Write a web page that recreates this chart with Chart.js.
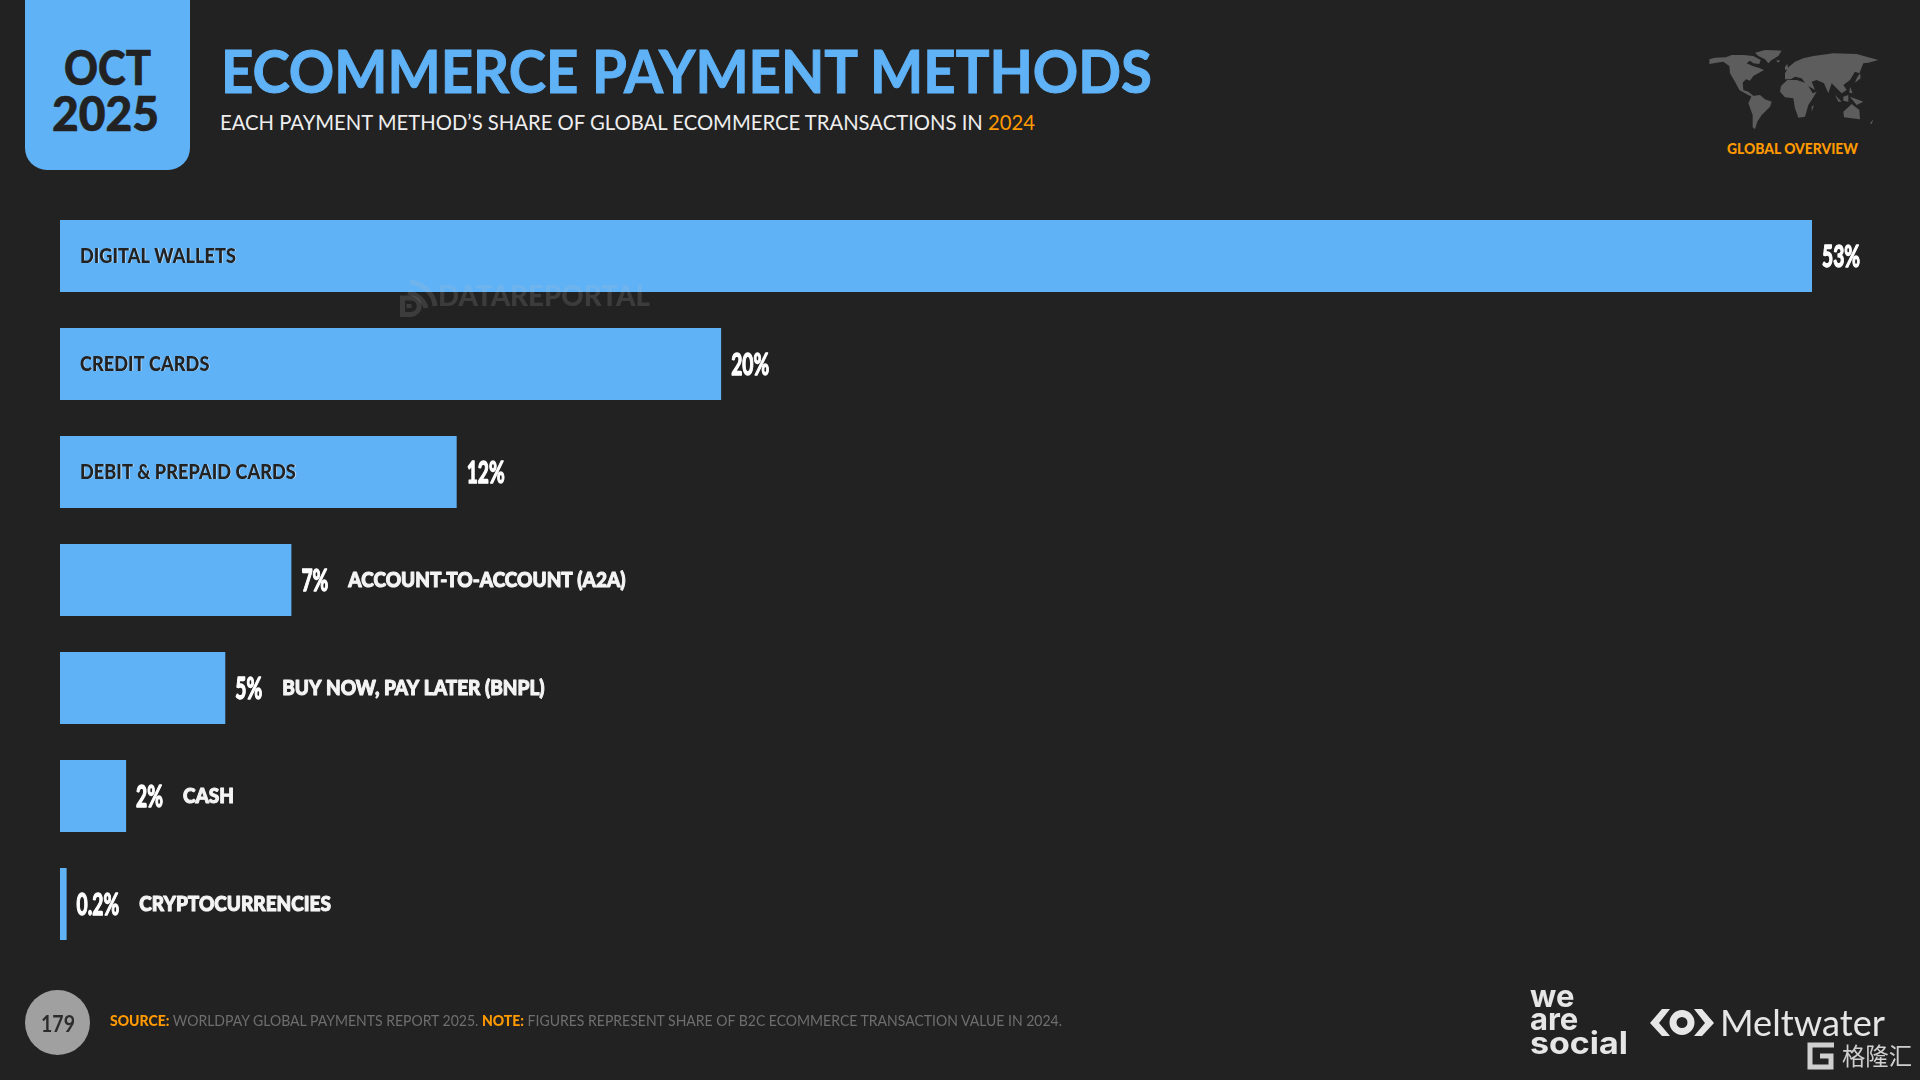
<!DOCTYPE html>
<html>
<head>
<meta charset="utf-8">
<title>Ecommerce Payment Methods</title>
<script src="https://cdn.jsdelivr.net/npm/chart.js@4"></script>
<style>
  html, body { margin: 0; padding: 0; background: #222222; }
  #slide { position: relative; width: 1920px; height: 1080px; overflow: hidden; background: #222222; font-family: Lato, sans-serif; }
  #slide canvas { position: absolute; left: 0; top: 0; }
  .t { position: absolute; white-space: nowrap; line-height: 1; transform-origin: 0 0; }
  #datebox { position: absolute; left: 25px; top: -20px; width: 165px; height: 190px; background: #60b2f7; border-radius: 22px; }
  svg { position: absolute; }
</style>
</head>
<body>
<div id="slide">
  <div id="datebox"></div>
  <span class="t" data-w="87" style="left:64px;top:44px;font-size:47px;font-weight:900;color:#222;-webkit-text-stroke:0.6px #222">OCT</span>
  <span class="t" data-w="107" style="left:52px;top:90px;font-size:47px;font-weight:900;color:#222;-webkit-text-stroke:0.6px #222">2025</span>
  <span class="t" data-w="931" style="left:221px;top:40px;font-size:60px;font-weight:700;color:#60b2f7;-webkit-text-stroke:1px #60b2f7">ECOMMERCE PAYMENT METHODS</span>
  <span class="t" data-w="815" style="left:220px;top:111px;font-size:22px;font-weight:400;color:#eeeeee">EACH PAYMENT METHOD’S SHARE OF GLOBAL ECOMMERCE TRANSACTIONS IN <span style="color:#ff9900">2024</span></span>

  <svg style="left:1700px;top:40px" width="190" height="95" viewBox="0 0 570 285" fill="#5d5d5d">
    <polygon points="165,38 195,30 245,32 235,48 215,60 205,70 195,58 175,48"/>
    <polygon points="28,58 45,53 78,52 95,45 130,45 160,48 182,60 178,72 160,70 150,62 140,70 158,78 178,84 192,90 175,100 160,108 150,122 138,118 128,128 130,150 145,155 165,172 155,170 135,160 118,150 105,125 90,100 88,78 70,65 50,68 28,72"/>
    <polygon points="155,168 180,165 195,178 215,185 210,200 195,215 185,225 172,245 165,268 158,262 158,225 145,190"/>
    <polygon points="243,138 262,120 290,120 320,130 338,160 350,155 335,180 325,195 315,230 295,233 285,205 280,175 255,172 240,155"/>
    <polygon points="255,100 265,82 285,65 310,55 340,48 400,40 470,42 535,60 505,68 490,70 478,100 465,95 450,120 430,135 440,150 425,160 410,145 395,130 385,160 372,130 350,120 335,125 345,150 320,135 305,115 285,110 272,118 255,118"/>
    <polygon points="405,165 425,185 415,185"/>
    <polygon points="430,170 445,165 445,185 430,182"/>
    <polygon points="450,170 490,185 470,195"/>
    <polygon points="450,140 458,160 448,158"/>
    <polygon points="470,115 480,100 482,115 465,128"/>
    <polygon points="430,215 455,192 478,210 480,238 455,235 432,232"/>
    <polygon points="510,250 520,238 515,252"/>
    <polygon points="335,200 342,195 335,215"/>
    <polygon points="255,80 262,72 265,88 255,90"/>
    <polygon points="228,62 240,60 235,68"/>
  </svg>
  <span class="t" data-w="131" style="left:1727px;top:141px;font-size:15px;font-weight:900;color:#ff9900">GLOBAL OVERVIEW</span>

  <canvas id="barChart" width="1920" height="1080"></canvas>

  <svg style="left:400px;top:280px" width="38" height="38" viewBox="0 0 38 38" fill="none" stroke="rgba(190,190,190,0.17)">
    <path d="M10 2 C24 4 34 14 35 26" stroke-width="5"/>
    <path d="M8 12 C16 14 24 20 26 28" stroke-width="5"/>
    <path d="M2.5 18 L11 18 C22 19 22 33 11 34.5 L2.5 34.5 Z M9 24 L9 28" stroke-width="5"/>
  </svg>
  <span class="t" data-w="212" style="left:438px;top:280px;font-size:29px;font-weight:900;color:rgba(190,190,190,0.17)">DATAREPORTAL</span>

  <svg style="left:25px;top:990px" width="65" height="65"><circle cx="32.5" cy="32.5" r="32.5" fill="#a0a0a0"/></svg>
  <span class="t" data-w="34" style="left:41px;top:1013px;font-size:22px;font-weight:700;color:#2c2c2c">179</span>
  <span class="t" data-w="952" style="left:110px;top:1013px;font-size:15px;color:#6e6e6e"><b style="color:#ff9900;font-weight:900">SOURCE:</b> WORLDPAY GLOBAL PAYMENTS REPORT 2025. <b style="color:#ff9900;font-weight:900">NOTE:</b> FIGURES REPRESENT SHARE OF B2C ECOMMERCE TRANSACTION VALUE IN 2024.</span>

  <span class="t" style="left:1530px;top:980px;font-family:Inter,sans-serif;font-size:31px;font-weight:700;color:#e6e6e6">we</span>
  <span class="t" style="left:1530px;top:1003px;font-family:Inter,sans-serif;font-size:31px;font-weight:700;color:#e6e6e6">are</span>
  <span class="t" data-w="98" style="left:1530px;top:1027px;font-family:Inter,sans-serif;font-size:31px;font-weight:700;color:#e6e6e6">social</span>
  <svg style="left:1650px;top:1009px" width="64" height="28" viewBox="0 0 64 28" fill="#e6e6e6">
    <polygon points="0,14 12,0 20,0 9,14 20,27 12,27"/>
    <polygon points="64,14 52,0 44,0 55,14 44,27 52,27"/>
    <circle cx="32" cy="13.5" r="9" fill="none" stroke="#e6e6e6" stroke-width="7"/>
  </svg>
  <span class="t" data-w="165" style="left:1720px;top:1004px;font-size:36px;font-weight:400;color:#e6e6e6">Meltwater</span>
  <svg style="left:1807px;top:1042px" width="29" height="29" viewBox="0 0 29 29" fill="none" stroke="#cfcfcf" stroke-width="5">
    <path d="M27 3 L3 3 L3 25 L24 25 L24 14 L13 14"/>
  </svg>
  <span class="t" data-w="70" style="left:1842px;top:1043px;font-family:'Noto Sans CJK SC',sans-serif;font-size:24px;color:#cfcfcf">格隆汇</span>
</div>

<script>
const categories = ["DIGITAL WALLETS", "CREDIT CARDS", "DEBIT & PREPAID CARDS", "ACCOUNT-TO-ACCOUNT (A2A)", "BUY NOW, PAY LATER (BNPL)", "CASH", "CRYPTOCURRENCIES"];
const shares = [53, 20, 12, 7, 5, 2, 0.2];
const shareLabels = ["53%", "20%", "12%", "7%", "5%", "2%", "0.2%"];

const BAR_COLOR = "#60b2f7";
const VALUE_SQUEEZE = 0.62;
const INSIDE_SQUEEZE = 0.91;
const OUTSIDE_SQUEEZE = 0.95;

// squeeze the header text to the widths measured on the slide
document.querySelectorAll(".t[data-w]").forEach((el) => {
  const natural = el.getBoundingClientRect().width;
  el.style.transform = `scaleX(${Number(el.dataset.w) / natural})`;
});

function drawSqueezed(ctx, text, x, y, squeeze, strokeWidth) {
  ctx.save();
  ctx.translate(x, y);
  ctx.scale(squeeze, 1);
  if (strokeWidth) {
    ctx.lineWidth = strokeWidth;
    ctx.strokeStyle = ctx.fillStyle;
    ctx.lineJoin = "round";
    ctx.strokeText(text, 0, 0);
  }
  ctx.fillText(text, 0, 0);
  ctx.restore();
}

const barLabels = {
  id: "barLabels",
  afterDatasetsDraw(chart) {
    const ctx = chart.ctx;
    const bars = chart.getDatasetMeta(0).data;
    ctx.save();
    ctx.textBaseline = "middle";
    ctx.textAlign = "left";
    bars.forEach((bar, i) => {
      const barWidth = bar.x - bar.base;
      const y = bar.y + 1;

      ctx.font = "700 31px 'Liberation Sans Narrow', Lato, sans-serif";
      ctx.fillStyle = "#ffffff";
      const valueX = bar.x + 10;
      drawSqueezed(ctx, shareLabels[i], valueX, y, VALUE_SQUEEZE, 1.4);
      const valueW = ctx.measureText(shareLabels[i]).width * VALUE_SQUEEZE;

      ctx.font = "900 20px Lato, sans-serif";
      const nameW = ctx.measureText(categories[i]).width * INSIDE_SQUEEZE;
      if (nameW + 40 < barWidth) {
        // the slide's text has a pale fringe on the bars
        ctx.fillStyle = "rgba(255,255,255,0.6)";
        drawSqueezed(ctx, categories[i], bar.base + 20.8, y, INSIDE_SQUEEZE);
        ctx.fillStyle = "#222222";
        drawSqueezed(ctx, categories[i], bar.base + 20, y, INSIDE_SQUEEZE);
      } else {
        ctx.fillStyle = "#f4f4f4";
        drawSqueezed(ctx, categories[i], valueX + valueW + 20, y, OUTSIDE_SQUEEZE, 1);
      }
    });
    ctx.restore();
  },
};

new Chart(document.getElementById("barChart").getContext("2d"), {
  type: "bar",
  data: {
    labels: categories,
    datasets: [
      {
        data: shares,
        backgroundColor: BAR_COLOR,
        borderWidth: 0,
        categoryPercentage: 1,
        barPercentage: 72 / 108,
      },
    ],
  },
  options: {
    indexAxis: "y",
    responsive: false,
    animation: false,
    devicePixelRatio: 1,
    layout: { padding: { left: 60, right: 108, top: 202, bottom: 122 } },
    plugins: { legend: { display: false }, tooltip: { enabled: false } },
    scales: {
      x: { display: false, min: 0, max: 53 },
      y: { display: false },
    },
  },
  plugins: [barLabels],
});
</script>
</body>
</html>
